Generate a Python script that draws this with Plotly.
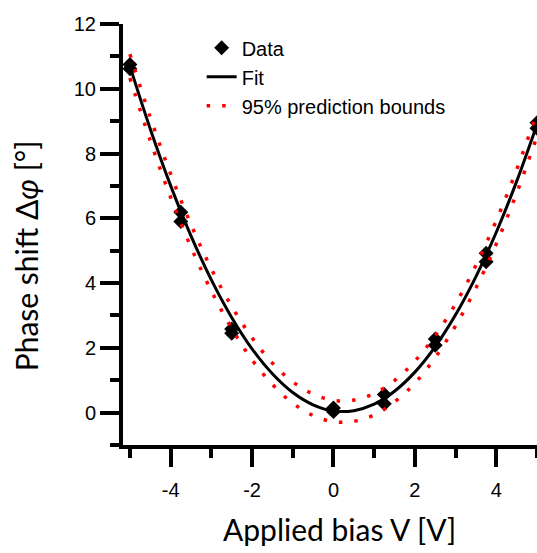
import plotly.graph_objects as go

# Measured phase shift versus applied bias (two readings per bias point)
bias_v = [-5, -5, -3.75, -3.75, -2.5, -2.5, 0, 0, 1.25, 1.25, 2.5, 2.5, 3.75, 3.75, 5, 5]
phase_deg = [10.75, 10.62, 6.19, 5.90, 2.58, 2.45, 0.14, 0.03, 0.56, 0.27,
             2.27, 2.08, 4.92, 4.66, 8.95, 8.78]

# Fitted curve and its 95% prediction bounds
curve_v = [-5, -4.5, -4, -3.5, -3, -2.5, -2, -1.5, -1, -0.5, 0,
           0.5, 1, 1.5, 2, 2.5, 3, 3.5, 4, 4.5, 5]
fit_deg = [10.70, 8.76, 7.01, 5.46, 4.10, 2.94, 1.97, 1.20, 0.62, 0.24, 0.05,
           0.06, 0.26, 0.66, 1.25, 2.04, 3.02, 4.20, 5.57, 7.14, 8.90]
upper_deg = [11.07, 9.12, 7.37, 5.81, 4.44, 3.28, 2.31, 1.53, 0.95, 0.57, 0.38,
             0.39, 0.59, 0.99, 1.59, 2.38, 3.36, 4.55, 5.93, 7.50, 9.27]
lower_deg = [10.33, 8.40, 6.65, 5.11, 3.76, 2.60, 1.63, 0.87, 0.29, -0.09, -0.28,
             -0.27, -0.07, 0.33, 0.91, 1.70, 2.68, 3.85, 5.21, 6.78, 8.53]

x_major = [-4, -2, 0, 2, 4]
x_major_text = ["-4", "-2", "0", "2", "4"]
x_minor = [-5, -3, -1, 1, 3, 5]
y_major = [0, 2, 4, 6, 8, 10, 12]
y_major_text = ["0", "2", "4", "6", "8", "10", "12"]
y_minor = [-1, 1, 3, 5, 7, 9, 11]

x_title = "Applied bias V [V]"
y_title = "Phase shift Δ<i>φ</i> [°]"

TICK_FONT = dict(family="Liberation Sans, Arial, sans-serif", size=20, color="black")
TITLE_FONT = dict(family="Lato, sans-serif", size=30, color="black")
RED_DOTS = dict(color="red", width=3.5, dash="3.5px,12px", shape="spline")

fig = go.Figure()

fig.add_trace(go.Scatter(
    x=bias_v, y=phase_deg, mode="markers", name="Data",
    marker=dict(symbol="diamond", size=11.5, color="black"),
    cliponaxis=False,
))
fig.add_trace(go.Scatter(
    x=curve_v, y=fit_deg, mode="lines", name="Fit",
    line=dict(color="black", width=3, shape="spline"),
    cliponaxis=False,
))
fig.add_trace(go.Scatter(
    x=curve_v, y=upper_deg, mode="lines", name="95% prediction bounds",
    line=RED_DOTS, cliponaxis=False, legendgroup="bounds",
))
fig.add_trace(go.Scatter(
    x=curve_v, y=lower_deg, mode="lines", name="95% prediction bounds",
    line=RED_DOTS, cliponaxis=False, legendgroup="bounds", showlegend=False,
))

axis_common = dict(
    showline=True, linewidth=4, linecolor="black",
    ticks="outside", tickwidth=4, tickcolor="black",
    showgrid=False, zeroline=False, tickfont=TICK_FONT,
)

fig.update_xaxes(
    range=[-5.17, 5.0], tickmode="array", tickvals=x_major, ticktext=x_major_text,
    ticklen=18, ticklabelstandoff=6,
    minor=dict(tickmode="array", tickvals=x_minor, ticks="outside",
               ticklen=9, tickwidth=4, tickcolor="black"),
    **axis_common,
)
fig.update_yaxes(
    range=[-1, 12], tickmode="array", tickvals=y_major, ticktext=y_major_text,
    ticklen=19,
    minor=dict(tickmode="array", tickvals=y_minor, ticks="outside",
               ticklen=9, tickwidth=4, tickcolor="black"),
    **axis_common,
)

# Axis titles placed as annotations relative to the plotting area
fig.add_annotation(
    text=x_title, xref="paper", yref="paper", x=0.524, y=-0.20,
    xanchor="center", yanchor="middle", showarrow=False, font=TITLE_FONT,
)
fig.add_annotation(
    text=y_title, xref="paper", yref="paper", x=-0.235, y=0.45,
    xanchor="center", yanchor="middle", textangle=-90, showarrow=False,
    font=TITLE_FONT,
)

fig.update_layout(
    width=537, height=553,
    margin=dict(l=123, r=0, t=24, b=108),
    plot_bgcolor="white", paper_bgcolor="white",
    showlegend=True,
    legend=dict(
        x=0.19, y=0.99, xanchor="left", yanchor="top",
        bgcolor="rgba(0,0,0,0)", font=dict(family="Liberation Sans, Arial, sans-serif",
                                           size=20, color="black"),
        tracegroupgap=0, itemwidth=30,
    ),
)

fig.write_html("out.html")
